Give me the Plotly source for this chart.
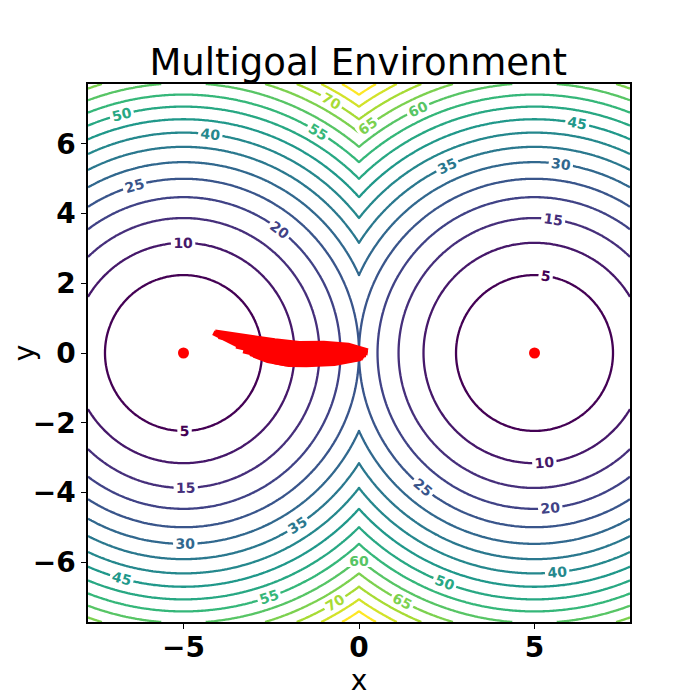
"""Multigoal environment cost contours with sampled trajectories."""

import numpy as np
import plotly.graph_objects as go

# goal positions of the environment
goal_x = [-5.0, 5.0]
goal_y = [0.0, 0.0]

# contour levels shown
level_start = 5
level_end = 80
level_step = 5

# axis extents and ticks
axis_lim = 7.72
x_ticks = [-5, 0, 5]
y_ticks = [-6, -4, -2, 0, 2, 4, 6]

# trajectories (start near origin, drift to left goal)
traj_x = [
    [0.25, -0.3, -1.0, -1.7, -2.4, -3.0, -3.6, -4.1],
    [0.22, -0.4, -1.1, -1.8, -2.5, -3.1, -3.7, -4.05],
    [0.25, -0.45, -1.2, -1.9, -2.6, -3.2, -3.8, -4.0],
    [0.2, -0.5, -1.2, -1.9, -2.6, -3.2, -3.6],
    [0.2, -0.55, -1.25, -1.95, -2.65, -3.25, -3.5],
    [0.15, -0.6, -1.3, -2.0, -2.7, -3.3],
    [0.12, -0.6, -1.35, -2.05, -2.6, -3.1],
    [0.1, -0.6, -1.4, -2.1, -2.6, -3.0],
    [0.05, -0.7, -1.5, -2.0, -2.4],
    [-3.4, -3.7, -3.95, -4.15],
]
traj_y = [
    [0.06, 0.22, 0.28, 0.27, 0.35, 0.44, 0.53, 0.6],
    [0.03, 0.16, 0.22, 0.2, 0.27, 0.38, 0.48, 0.54],
    [0.0, 0.1, 0.14, 0.1, 0.18, 0.3, 0.42, 0.47],
    [-0.03, 0.03, 0.05, 0.03, 0.1, 0.22, 0.33],
    [-0.05, -0.05, -0.05, -0.07, 0.0, 0.12, 0.2],
    [-0.08, -0.12, -0.15, -0.16, -0.08, 0.06],
    [-0.11, -0.19, -0.24, -0.25, -0.16, -0.02],
    [-0.14, -0.26, -0.31, -0.31, -0.22, -0.06],
    [-0.16, -0.3, -0.34, -0.33, -0.25],
    [0.2, 0.34, 0.45, 0.58],
]

# cost field: squared distance to the nearest goal
xs = np.linspace(-axis_lim, axis_lim, 301)
ys = np.linspace(-axis_lim, axis_lim, 301)
gx, gy = np.meshgrid(xs, ys)
cost = np.min(
    [(gx - px) ** 2 + (gy - py) ** 2 for px, py in zip(goal_x, goal_y)], axis=0
)

fig = go.Figure()
fig.add_trace(
    go.Contour(
        x=xs,
        y=ys,
        z=cost,
        colorscale="Viridis",
        zmin=level_start,
        zmax=level_end + level_step,
        showscale=False,
        line=dict(width=2.3),
        contours=dict(
            coloring="lines",
            start=level_start,
            end=level_end,
            size=level_step,
            showlabels=True,
            labelfont=dict(family="DejaVu Sans", size=14, weight="bold"),
        ),
        hoverinfo="skip",
    )
)

for tx, ty in zip(traj_x, traj_y):
    fig.add_trace(
        go.Scatter(
            x=tx,
            y=ty,
            mode="lines",
            line=dict(color="red", width=5),
            showlegend=False,
        )
    )

fig.add_trace(
    go.Scatter(
        x=goal_x,
        y=goal_y,
        mode="markers",
        marker=dict(color="red", size=11),
        showlegend=False,
    )
)

axis_style = dict(
    range=[-axis_lim, axis_lim],
    showgrid=False,
    zeroline=False,
    showline=True,
    linecolor="black",
    linewidth=1.5,
    mirror=True,
    ticks="outside",
    ticklen=5,
    tickcolor="black",
    automargin=False,
    tickfont=dict(family="DejaVu Sans", size=28, color="black", weight="bold"),
)

# the page body adds an 8px offset, so the figure is a little smaller than the window
fig.update_layout(
    width=692,
    height=692,
    margin=dict(l=80, r=70, t=76, b=78),
    paper_bgcolor="white",
    plot_bgcolor="white",
    showlegend=False,
    title=dict(
        text="Multigoal Environment",
        x=0.506,
        xanchor="center",
        y=0.922,
        yanchor="middle",
        font=dict(family="DejaVu Sans", size=37, color="black"),
    ),
    xaxis=dict(
        axis_style,
        tickvals=x_ticks,
        ticktext=["\u22125", "0", "5"],
        ticklabelstandoff=-5,
        title=dict(text="x", font=dict(family="DejaVu Sans", size=28, color="black"), standoff=0),
    ),
    yaxis=dict(
        axis_style,
        tickvals=y_ticks,
        ticktext=[("\u2212" + str(-v)) if v < 0 else str(v) for v in y_ticks],
        title=dict(text="y", font=dict(family="DejaVu Sans", size=28, color="black"), standoff=3),
    ),
)

fig.write_html("out.html")
